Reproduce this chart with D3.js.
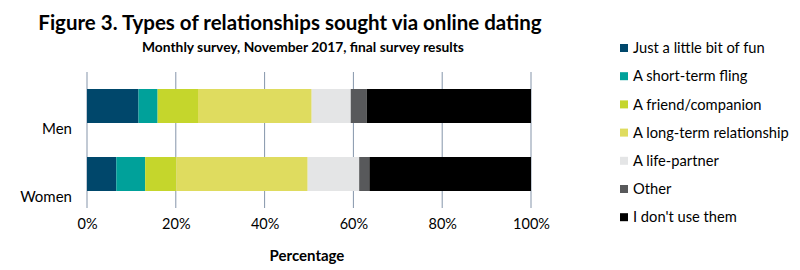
<!DOCTYPE html>
<html>
<head>
<meta charset="utf-8">
<script src="https://cdn.jsdelivr.net/npm/d3@7"></script>
<style>
  body { margin: 0; background: #fff; }
  svg { display: block; }
  text { font-family: Lato, "Open Sans", sans-serif; fill: #000; }
</style>
</head>
<body>
<div id="svg-container"></div>
<script>
// data
const groups = ["Men", "Women"];
const seriesNames = [
  "Just a little bit of fun",
  "A short-term fling",
  "A friend/companion",
  "A long-term relationship",
  "A life-partner",
  "Other",
  "I don't use them"
];
const menValues = [11.6, 4.3, 9.1, 25.6, 8.8, 3.6, 37.0];
const womenValues = [6.6, 6.5, 7.0, 29.6, 11.6, 2.3, 36.4];
const seriesColors = ["#00476b", "#00a19a", "#c5d62c", "#dfdc5f", "#e4e5e6", "#58595b", "#000000"];
const xTicks = [0, 20, 40, 60, 80, 100];

const width = 800, height = 270;
const margin = { top: 72, right: 269, bottom: 62, left: 87 };

const svg = d3.select("#svg-container").append("svg")
  .attr("width", width).attr("height", height);

// build rows for the stack
const rows = groups.map((g, i) => {
  const vals = i === 0 ? menValues : womenValues;
  const row = { group: g };
  seriesNames.forEach((s, j) => (row[s] = vals[j]));
  return row;
});
const stacked = d3.stack().keys(seriesNames)(rows);

// scales
const xScale = d3.scaleLinear()
  .domain([0, 100])
  .range([margin.left, width - margin.right]);
const yScale = d3.scaleBand()
  .domain(groups)
  .range([margin.top, height - margin.bottom])
  .paddingInner(0.5)
  .paddingOuter(0.25);
const color = d3.scaleOrdinal().domain(seriesNames).range(seriesColors);

// gridlines
svg.append("g")
  .selectAll("line")
  .data(xTicks)
  .join("line")
  .attr("x1", d => xScale(d)).attr("x2", d => xScale(d))
  .attr("y1", margin.top).attr("y2", height - margin.bottom)
  .attr("stroke", "#8595aa")
  .attr("stroke-width", 1);

// bars
svg.append("g")
  .selectAll("g")
  .data(stacked)
  .join("g")
  .attr("fill", d => color(d.key))
  .selectAll("rect")
  .data(d => d)
  .join("rect")
  .attr("x", d => xScale(d[0]))
  .attr("width", d => xScale(d[1]) - xScale(d[0]))
  .attr("y", d => yScale(d.data.group))
  .attr("height", yScale.bandwidth());

// x axis labels
const xAxis = d3.axisBottom(xScale)
  .tickValues(xTicks)
  .tickFormat(d => d + "%")
  .tickSize(0)
  .tickPadding(0);
svg.append("g")
  .attr("class", "x-axis")
  .attr("transform", `translate(0,${height - margin.bottom + 11})`)
  .call(xAxis)
  .call(g => g.select(".domain").remove())
  .call(g => g.selectAll("text")
    .attr("font-size", 14.5)
    .attr("fill", "#000")
    .style("font-family", "Lato, sans-serif"));

// y labels (sit low in their band, as in the original)
svg.append("g")
  .selectAll("text")
  .data(groups)
  .join("text")
  .attr("x", margin.left - 15)
  .attr("y", d => yScale(d) + yScale.bandwidth() + 11)
  .attr("text-anchor", "end")
  .attr("font-size", 15)
  .text(d => d);

// titles
svg.append("text")
  .attr("x", 290).attr("y", 30)
  .attr("text-anchor", "middle")
  .attr("font-size", 20.5)
  .attr("font-weight", "bold")
  .text("Figure 3. Types of relationships sought via online dating");

svg.append("text")
  .attr("x", 303).attr("y", 52)
  .attr("text-anchor", "middle")
  .attr("font-size", 13.8)
  .attr("font-weight", "bold")
  .text("Monthly survey, November 2017, final survey results");

svg.append("text")
  .attr("x", 307).attr("y", 261)
  .attr("text-anchor", "middle")
  .attr("font-size", 15)
  .attr("font-weight", "bold")
  .text("Percentage");

// legend
const legend = svg.append("g")
  .selectAll("g")
  .data(seriesNames)
  .join("g")
  .attr("transform", (d, i) => `translate(620,${48 + i * 28.2})`);
legend.append("rect")
  .attr("x", 0).attr("y", -4)
  .attr("width", 8).attr("height", 8)
  .attr("fill", d => color(d));
legend.append("text")
  .attr("x", 13).attr("y", 0)
  .attr("dy", "0.35em")
  .attr("font-size", 14.7)
  .text(d => d);
</script>
</body>
</html>
